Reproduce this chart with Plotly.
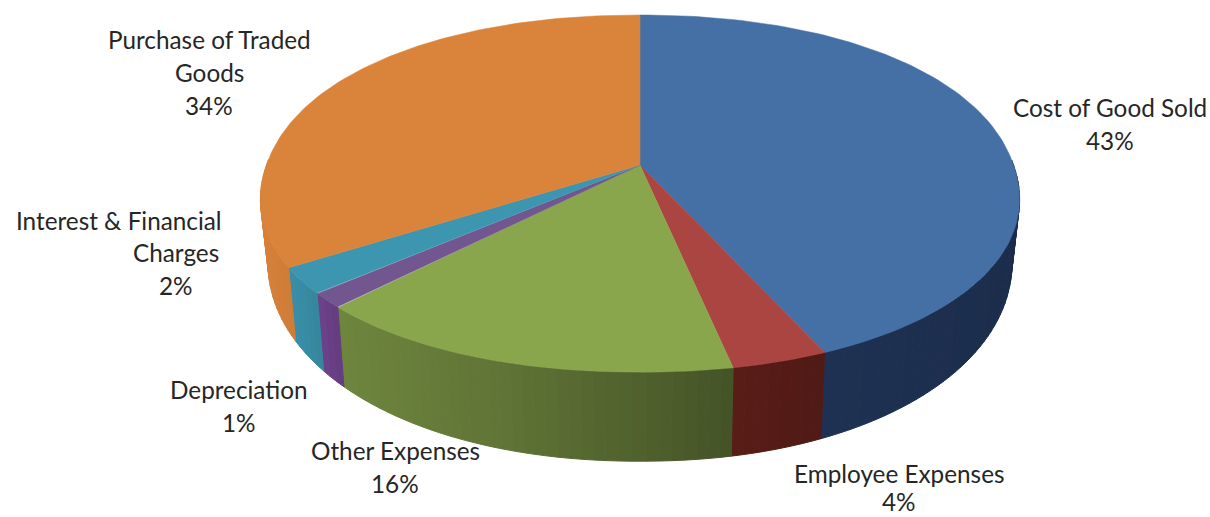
import numpy as np
import plotly.graph_objects as go

# ---- data ----
categories = ["Cost of Good Sold", "Employee Expenses", "Other Expenses",
              "Depreciation", "Interest & Financial Charges", "Purchase of Traded Goods"]
shares = [43.4, 3.5, 15.5, 1.4, 2.45, 33.75]
percent_labels = ["43%", "4%", "16%", "1%", "2%", "34%"]

# ---- style ----
top_colors = ["#4570A6", "#AB4542", "#89A64D", "#71568F", "#3C96B0", "#DA833B"]
wall_colors = ["#4570BC", "#B43A30", "#89A64D", "#7A4A9C", "#3C96B0", "#DA833B"]
label_color = "#262626"
FONT = "Lato"
FONT_SIZE = 24.3
LINE_STEP = 33

# ---- projection of the disc into the picture ----
APEX_X, APEX_Y = 640, 165
RX, RY, PERSP = 373.5, 174, 0.16
ROUNDNESS = 0.95
BOTTOM_SCALE_X, BOTTOM_SCALE_Y, BOTTOM_DROP = 0.98, 1.15, 58


def top_xy(theta):
    s, c = np.sin(theta), np.cos(theta)
    u = np.sign(s) * np.abs(s) ** ROUNDNESS
    v = -np.sign(c) * np.abs(c) ** ROUNDNESS
    d = 1 - PERSP * v
    return APEX_X + RX * u / d, APEX_Y + RY * v / d


def bottom_xy(theta):
    x, y = top_xy(theta)
    return APEX_X + (x - APEX_X) * BOTTOM_SCALE_X, APEX_Y + BOTTOM_DROP + (y - APEX_Y) * BOTTOM_SCALE_Y


def rgb(hex_color, factor=1.0):
    parts = [int(hex_color[i:i + 2], 16) for i in (1, 3, 5)]
    return "rgb({},{},{})".format(*[int(round(p * factor)) for p in parts])


def side_shade(x):
    return float(np.interp(x, [262, 300, 320, 342, 500, 735, 825, 1020],
                           [0.98, 0.93, 0.88, 0.80, 0.70, 0.50, 0.44, 0.40]))


fig = go.Figure()
edges = np.cumsum([0.0] + shares) / sum(shares) * 2 * np.pi

# side wall: narrow strips, visible front half only
strips = []
for i in range(len(shares)):
    a0, a1 = edges[i], edges[i + 1]
    n = max(2, int((a1 - a0) / np.radians(1.5)))
    ts = np.linspace(a0, a1, n + 1)
    for t0, t1 in zip(ts[:-1], ts[1:]):
        if -np.cos((t0 + t1) / 2) > -0.02:
            strips.append((i, t0, t1))

for i, t0, t1 in strips:
    xt, yt = top_xy(np.array([t0, t1]))
    xb, yb = bottom_xy(np.array([t1, t0]))
    c = rgb(wall_colors[i], side_shade((xt[0] + xt[1]) / 2))
    fig.add_trace(go.Scatter(
        x=list(xt) + list(xb) + [xt[0]], y=list(yt) + list(yb) + [yt[0]],
        mode="lines", fill="toself", fillcolor=c, line=dict(color=c, width=1),
        hoverinfo="skip", showlegend=False))

# top face
for i, name in enumerate(categories):
    ts = np.linspace(edges[i], edges[i + 1], 120)
    x, y = top_xy(ts)
    c = rgb(top_colors[i])
    fig.add_trace(go.Scatter(
        x=[APEX_X] + list(x) + [APEX_X], y=[APEX_Y] + list(y) + [APEX_Y],
        mode="lines", fill="toself", fillcolor=c, line=dict(color=c, width=0.5),
        name=name, hoverinfo="name", showlegend=False))

# labels: one annotation per text line
label_lines = [
    (1110, 107, ["Cost of Good Sold", "43%"]),
    (899, 473, ["Employee Expenses"]),
    (899, 501, ["4%"]),
    (395, 450, ["Other Expenses", "16%"]),
    (239, 389, ["Depreciation", "1%"]),
    (119, 220, ["Interest & Financial"]),
    (176, 252, ["Charges", "2%"]),
    (209, 39, ["Purchase of Traded", "Goods", "34%"]),
]
for cx, cy, lines in label_lines:
    for k, line in enumerate(lines):
        fig.add_annotation(x=cx, y=cy + k * LINE_STEP, text=line, showarrow=False,
                           xanchor="center", yanchor="middle",
                           font=dict(family=FONT, size=FONT_SIZE, color=label_color))

fig.update_layout(
    width=1210, height=517, margin=dict(l=0, r=0, t=0, b=0),
    paper_bgcolor="white", plot_bgcolor="white",
    xaxis=dict(range=[0, 1210], visible=False, fixedrange=True),
    yaxis=dict(range=[517, 0], visible=False, fixedrange=True),
)
fig.write_html("out.html", config=dict(displayModeBar=False),
               post_script="document.body.style.margin='0';document.documentElement.style.overflow='hidden';")
